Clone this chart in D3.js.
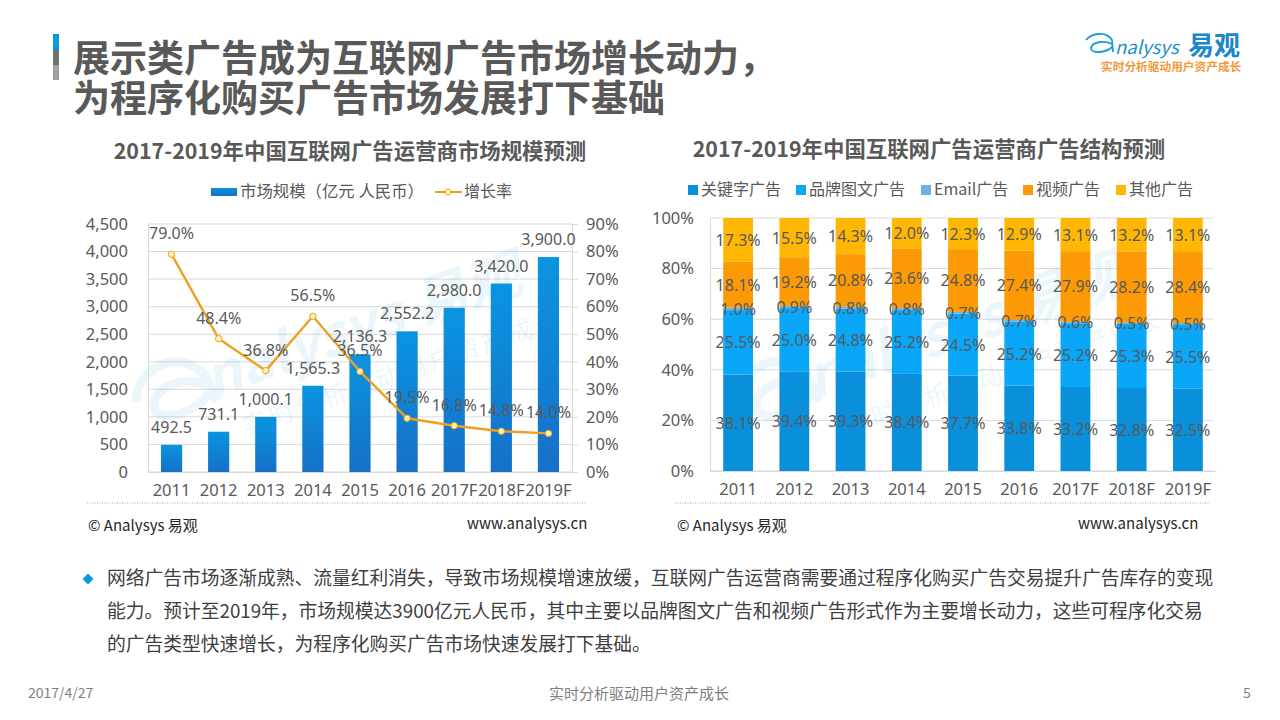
<!DOCTYPE html>
<html>
<head>
<meta charset="utf-8">
<script src="https://cdn.jsdelivr.net/npm/d3@7"></script>
<style>
html, body { margin: 0; padding: 0; background: #fff; }
text { font-family: "Noto Sans CJK SC", "Noto Sans", sans-serif; }
</style>
</head>
<body>
<div id="vis"></div>
<script>
var h = 720, w = 1280; //height and width of the svg

//data for the left chart
var years = ["2011", "2012", "2013", "2014", "2015", "2016", "2017F", "2018F", "2019F"];
var marketSize = [492.5, 731.1, 1000.1, 1565.3, 2136.3, 2552.2, 2980.0, 3420.0, 3900.0];
var growthRate = [79.0, 48.4, 36.8, 56.5, 36.5, 19.5, 16.8, 14.8, 14.0];
var sizeTicks = [0, 500, 1000, 1500, 2000, 2500, 3000, 3500, 4000, 4500];
var rateTicks = [0, 10, 20, 30, 40, 50, 60, 70, 80, 90];

//data for the right chart, bottom segment first
var keywordAds = [38.1, 39.4, 39.3, 38.4, 37.7, 33.8, 33.2, 32.8, 32.5];
var displayAds = [25.5, 25.0, 24.8, 25.2, 24.5, 25.2, 25.2, 25.3, 25.5];
var emailAds = [1.0, 0.9, 0.8, 0.8, 0.7, 0.7, 0.6, 0.5, 0.5];
var videoAds = [18.1, 19.2, 20.8, 23.6, 24.8, 27.4, 27.9, 28.2, 28.4];
var otherAds = [17.3, 15.5, 14.3, 12.0, 12.3, 12.9, 13.1, 13.2, 13.1];
var shareTicks = [0, 20, 40, 60, 80, 100];
var seriesNames = ["关键字广告", "品牌图文广告", "Email广告", "视频广告", "其他广告"];
var seriesColors = ["#0a90da", "#0aa6f7", "#69b3e7", "#fb9a05", "#ffb703"];

//slide text
var titleLines = ["展示类广告成为互联网广告市场增长动力，", "为程序化购买广告市场发展打下基础"];
var bodyLines = ["网络广告市场逐渐成熟、流量红利消失，导致市场规模增速放缓，互联网广告运营商需要通过程序化购买广告交易提升广告库存的变现",
                 "能力。预计至2019年，市场规模达3900亿元人民币，其中主要以品牌图文广告和视频广告形式作为主要增长动力，这些可程序化交易",
                 "的广告类型快速增长，为程序化购买广告市场快速发展打下基础。"];

var textColor = "#595959", gridColor = "#d9d9d9";

var svg = d3.select("#vis")
            .append("svg")
            .attr("width", w)
            .attr("height", h)
            .style("display", "block");

var defs = svg.append("defs");
var barGrad = defs.append("linearGradient")
                  .attr("id", "barGrad")
                  .attr("x1", 0).attr("y1", 0).attr("x2", 0).attr("y2", 1);
barGrad.append("stop").attr("offset", "0%").attr("stop-color", "#0a94e0");
barGrad.append("stop").attr("offset", "100%").attr("stop-color", "#1670c8");

//helper for plain text
function addText(x, y, str, size, color, anchor, weight) {
    return svg.append("text")
              .attr("x", x)
              .attr("y", y)
              .attr("text-anchor", anchor || "start")
              .attr("font-size", size)
              .attr("font-weight", weight || "normal")
              .attr("fill", color || textColor)
              .text(str);
}

//faint logo drawn across each chart
function addWatermark(x, y) {
    var g = svg.append("g")
               .attr("transform", "translate(" + x + "," + y + ") rotate(-19)")
               .attr("fill", "#0a92dd")
               .attr("opacity", 0.08);
    g.append("path")
     .attr("d", "M-8,-22 C8,-56 50,-58 66,-26 L70,4 M66,-14 C44,-34 10,-28 8,-10 C8,8 44,8 66,-6")
     .attr("fill", "none")
     .attr("stroke", "#0a92dd")
     .attr("stroke-width", 9);
    g.append("text")
     .attr("x", 66)
     .attr("font-size", 56)
     .attr("font-style", "italic")
     .attr("font-weight", "bold")
     .text("nalysys 易观");
    g.append("text")
     .attr("x", 86)
     .attr("y", 46)
     .attr("font-size", 25)
     .attr("letter-spacing", 3)
     .text("实时分析驱动用户资产成长");
}

//header
svg.append("rect").attr("x", 53).attr("y", 34).attr("width", 6).attr("height", 16).attr("fill", "#0a96e0");
svg.append("rect").attr("x", 53).attr("y", 50).attr("width", 6).attr("height", 15).attr("fill", "#6f6f6f");
svg.append("rect").attr("x", 53).attr("y", 65).attr("width", 6).attr("height", 15).attr("fill", "#a0a0a0");
titleLines.forEach(function(d, i) {
    addText(73, 72 + i * 39.5, d, 37, "#595959", "start", "bold");
});

//logo at the top right
svg.append("path")
   .attr("d", "M1086,40 C1092,33 1106,31 1112,40 L1113,52 M1112,44 C1104,40 1092,42 1091,48 C1091,54 1106,53 1112,47")
   .attr("fill", "none")
   .attr("stroke", "#1a9ad8")
   .attr("stroke-width", 1.8);
addText(1115, 54, "nalysys", 18.5, "#1a8fd0").attr("font-style", "italic");
addText(1188, 55, "易观", 26, "#1a86cc", "start", "bold");
addText(1101, 71, "实时分析驱动用户资产成长", 11.7, "#ee9a3c", "start", "bold");

//left chart
var plotL = {left: 148, right: 572, top: 224, bottom: 472};

var xLeft = d3.scaleBand()
              .domain(years)
              .range([plotL.left, plotL.right])
              .paddingInner(0.55)
              .paddingOuter(0.275);
var ySize = d3.scaleLinear().domain([0, 4500]).range([plotL.bottom, plotL.top]);
var yRate = d3.scaleLinear().domain([0, 90]).range([plotL.bottom, plotL.top]);

addText(350, 159, "2017-2019年中国互联网广告运营商市场规模预测", 21.4, "#595959", "middle", "bold");

//gridlines
svg.append("g")
   .selectAll("line")
   .data(sizeTicks)
   .enter()
   .append("line")
   .attr("x1", plotL.left)
   .attr("x2", plotL.right)
   .attr("y1", function(d) { return ySize(d); })
   .attr("y2", function(d) { return ySize(d); })
   .attr("stroke", gridColor);

addWatermark(150, 420);

svg.append("g")
   .selectAll("rect")
   .data(marketSize)
   .enter()
   .append("rect")
   .attr("x", function(d, i) { return xLeft(years[i]); })
   .attr("y", function(d) { return ySize(d); })
   .attr("width", xLeft.bandwidth())
   .attr("height", function(d) { return plotL.bottom - ySize(d); })
   .attr("fill", "url(#barGrad)");

//axes of the left chart
function styleAxis(g) {
    g.selectAll("path").attr("stroke", gridColor);
    g.selectAll("line").attr("stroke", gridColor);
    g.selectAll("text")
     .attr("fill", textColor)
     .attr("font-size", 16.5)
     .style("font-family", "'Noto Sans', sans-serif");
}

svg.append("g")
   .attr("transform", "translate(" + plotL.left + ",0)")
   .call(d3.axisLeft(ySize).tickValues(sizeTicks).tickFormat(d3.format(",")).tickSize(0).tickPadding(20))
   .call(styleAxis);

svg.append("g")
   .attr("transform", "translate(" + plotL.right + ",0)")
   .call(d3.axisRight(yRate).tickValues(rateTicks).tickFormat(function(d) { return d + "%"; }).tickSize(6).tickPadding(8))
   .call(styleAxis);

svg.append("g")
   .attr("transform", "translate(0," + plotL.bottom + ")")
   .call(d3.axisBottom(xLeft).tickSize(0).tickPadding(12))
   .call(styleAxis);

//growth line
var growthLine = d3.line()
                   .x(function(d, i) { return xLeft(years[i]) + xLeft.bandwidth() / 2; })
                   .y(function(d) { return yRate(d); });

svg.append("path")
   .datum(growthRate)
   .attr("d", growthLine)
   .attr("fill", "none")
   .attr("stroke", "#f0a020")
   .attr("stroke-width", 2.4);

svg.append("g")
   .selectAll("circle")
   .data(growthRate)
   .enter()
   .append("circle")
   .attr("cx", function(d, i) { return xLeft(years[i]) + xLeft.bandwidth() / 2; })
   .attr("cy", function(d) { return yRate(d); })
   .attr("r", 3.2)
   .attr("fill", "#fff2b0")
   .attr("stroke", "#f0a020")
   .attr("stroke-width", 1);

//value labels of the left chart
svg.append("g")
   .selectAll("text")
   .data(marketSize)
   .enter()
   .append("text")
   .attr("x", function(d, i) { return xLeft(years[i]) + xLeft.bandwidth() / 2; })
   .attr("y", function(d) { return ySize(d) - 12; })
   .attr("text-anchor", "middle")
   .attr("font-size", 16)
   .attr("fill", textColor)
   .style("font-family", "'Noto Sans', sans-serif")
   .text(function(d) { return d3.format(",.1f")(d); });

svg.append("g")
   .selectAll("text")
   .data(growthRate)
   .enter()
   .append("text")
   .attr("x", function(d, i) { return xLeft(years[i]) + xLeft.bandwidth() / 2; })
   .attr("y", function(d) { return yRate(d) - 18; })
   .attr("dy", 3)
   .attr("text-anchor", "middle")
   .attr("font-size", 16)
   .attr("fill", textColor)
   .style("font-family", "'Noto Sans', sans-serif")
   .text(function(d) { return d.toFixed(1) + "%"; });

//legend of the left chart
svg.append("rect").attr("x", 211).attr("y", 188).attr("width", 26).attr("height", 8).attr("fill", "url(#barGrad)");
addText(240, 197, "市场规模（亿元 人民币）", 16.4);
svg.append("line").attr("x1", 435).attr("x2", 462).attr("y1", 192).attr("y2", 192).attr("stroke", "#f0a020").attr("stroke-width", 2);
svg.append("circle").attr("cx", 448).attr("cy", 192).attr("r", 3).attr("fill", "#fff2b0").attr("stroke", "#f0a020");
addText(464, 197, "增长率", 16);

//right chart
var plotR = {left: 710, right: 1216, top: 218, bottom: 471};

var xRight = d3.scaleBand()
               .domain(years)
               .range([plotR.left, plotR.right])
               .paddingInner(0.47)
               .paddingOuter(0.235);
var yShare = d3.scaleLinear().domain([0, 100]).range([plotR.bottom, plotR.top]);

addText(929, 157, "2017-2019年中国互联网广告运营商广告结构预测", 21.4, "#595959", "middle", "bold");

svg.append("g")
   .selectAll("line")
   .data(shareTicks)
   .enter()
   .append("line")
   .attr("x1", plotR.left)
   .attr("x2", plotR.right - 3)
   .attr("y1", function(d) { return yShare(d); })
   .attr("y2", function(d) { return yShare(d); })
   .attr("stroke", gridColor);

addWatermark(752, 420);

//one row per year, stacked in series order
var shareRows = years.map(function(y, i) {
    return {year: y, 0: keywordAds[i], 1: displayAds[i], 2: emailAds[i], 3: videoAds[i], 4: otherAds[i]};
});
var stacked = d3.stack().keys([0, 1, 2, 3, 4])(shareRows);

var layers = svg.append("g")
                .selectAll("g")
                .data(stacked)
                .enter()
                .append("g")
                .attr("fill", function(d) { return seriesColors[d.key]; });

layers.selectAll("rect")
      .data(function(d) { return d; })
      .enter()
      .append("rect")
      .attr("x", function(d) { return xRight(d.data.year); })
      .attr("y", function(d) { return yShare(d[1]); })
      .attr("width", xRight.bandwidth())
      .attr("height", function(d) { return yShare(d[0]) - yShare(d[1]); });

svg.append("g")
   .attr("transform", "translate(" + plotR.left + ",0)")
   .call(d3.axisLeft(yShare).tickValues(shareTicks).tickFormat(function(d) { return d + "%"; }).tickSize(0).tickPadding(16))
   .call(styleAxis);

svg.append("g")
   .attr("transform", "translate(0," + plotR.bottom + ")")
   .call(d3.axisBottom(xRight).tickSize(0).tickPadding(12))
   .call(styleAxis)
   .select("path").attr("stroke", gridColor);

//segment labels of the right chart
stacked.forEach(function(layer) {
    svg.append("g")
       .selectAll("text")
       .data(layer)
       .enter()
       .append("text")
       .attr("x", function(d) { return xRight(d.data.year) + xRight.bandwidth() / 2; })
       .attr("y", function(d) { return yShare((d[0] + d[1]) / 2) + 6; })
       .attr("text-anchor", "middle")
       .attr("font-size", 16)
       .attr("fill", textColor)
       .style("font-family", "'Noto Sans', sans-serif")
       .text(function(d) { return (d[1] - d[0]).toFixed(1) + "%"; });
});

//legend of the right chart
var legendX = [688, 796, 921, 1023, 1116];
seriesNames.forEach(function(d, i) {
    svg.append("rect")
       .attr("x", legendX[i])
       .attr("y", 185)
       .attr("width", 10)
       .attr("height", 10)
       .attr("fill", seriesColors[i]);
    addText(legendX[i] + 13, 195, d, 16);
});

//dotted rules and source lines under both charts
[[87, 587, 88, 467], [675, 1209, 677, 1078]].forEach(function(d) {
    svg.append("line")
       .attr("x1", d[0]).attr("x2", d[1])
       .attr("y1", 503).attr("y2", 503)
       .attr("stroke", "#a6a6a6")
       .attr("stroke-dasharray", "1 1.5");
    addText(d[2], 531, "© Analysys 易观", 15, "#262626");
    addText(d[3], 529, "www.analysys.cn", 15, "#262626");
});

//body text
svg.append("path")
   .attr("d", d3.symbol().type(d3.symbolSquare).size(60)())
   .attr("transform", "translate(88,579) rotate(45)")
   .attr("fill", "#0a96e0");
bodyLines.forEach(function(d, i) {
    addText(107, 585 + i * 33, d, 18.75, "#404040");
});

//footer
addText(28, 698, "2017/4/27", 14, "#7f7f7f");
addText(639, 699, "实时分析驱动用户资产成长", 15, "#7f7f7f", "middle");
addText(1243, 698, "5", 14, "#7f7f7f");
</script>
</body>
</html>
